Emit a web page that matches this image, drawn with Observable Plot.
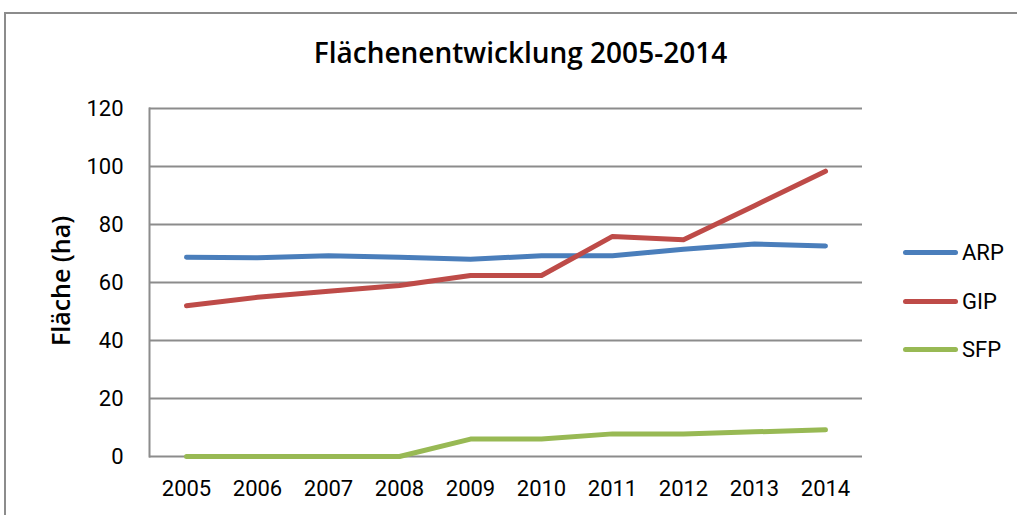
<!DOCTYPE html>
<html>
<head>
<meta charset="utf-8">
<script src="https://cdn.jsdelivr.net/npm/d3@7"></script>
<script src="https://cdn.jsdelivr.net/npm/@observablehq/plot@0.6"></script>
<style>
  html, body { margin: 0; padding: 0; background: #fff; }
  #wrap { position: relative; width: 1017px; height: 515px; overflow: hidden; font-family: Roboto, "Liberation Sans", sans-serif; color: #000; }
  #border { position: absolute; left: 4px; top: 12px; width: 1100px; height: 600px; border: 2px solid #8c8c8c; box-sizing: border-box; }
  #title { position: absolute; left: 12px; width: 1017px; top: 34px; text-align: center; font-family: "Open Sans", sans-serif; font-weight: 600; font-size: 28px; line-height: 36px; }
  #ytitle { position: absolute; left: 60px; top: 281px; transform: translate(-50%, -50%) rotate(-90deg); font-family: "Open Sans", sans-serif; font-weight: 600; font-size: 25px; white-space: nowrap; }
  #chart { position: absolute; left: 0; top: 0; }
  .leg { position: absolute; left: 903px; height: 24px; display: flex; align-items: center; font-size: 22px; }
  .leg span.sw { display: inline-block; width: 55px; height: 5px; border-radius: 3px; margin-right: 4px; }
</style>
</head>
<body>
<div id="wrap">
  <div id="border"></div>
  <div id="title">Flächenentwicklung 2005-2014</div>
  <div id="ytitle">Fläche (ha)</div>
  <div id="chart"></div>
  <div id="legend"></div>
</div>
<script>
const years = ["2005","2006","2007","2008","2009","2010","2011","2012","2013","2014"];
const seriesNames = ["ARP", "GIP", "SFP"];
const seriesColors = ["#4a7ebb", "#be4b48", "#98b954"];
const arp = [68.7, 68.5, 69.2, 68.7, 68.0, 69.2, 69.2, 71.5, 73.3, 72.6];
const gip = [52.0, 54.9, 57.0, 59.0, 62.4, 62.4, 75.9, 74.7, 86.5, 98.4];
const sfp = [0, 0, 0, 0, 6.0, 6.0, 7.8, 7.8, 8.5, 9.2];
const yTicks = [0, 20, 40, 60, 80, 100, 120];

const valuesBySeries = {ARP: arp, GIP: gip, SFP: sfp};
const data = seriesNames.flatMap(s => years.map((y, i) => ({series: s, year: y, value: valuesBySeries[s][i]})));

const chart = Plot.plot({
  width: 1017,
  height: 515,
  marginTop: 108,
  marginBottom: 59,
  marginLeft: 149,
  marginRight: 155,
  style: {fontFamily: "Roboto, 'Liberation Sans', sans-serif", fontSize: "22px", color: "#000", background: "transparent"},
  x: {type: "point", domain: years, padding: 0.5, label: null},
  y: {domain: [0, 120], label: null},
  color: {domain: seriesNames, range: seriesColors},
  marks: [
    Plot.ruleY(yTicks, {stroke: "#8c8c8c", strokeWidth: 2}),
    Plot.frame({anchor: "left", stroke: "#8c8c8c", strokeWidth: 2}),
    Plot.axisX({tickSize: 0, tickPadding: 24, fontSize: 22, label: null}),
    Plot.axisY({ticks: yTicks, tickSize: 0, tickPadding: 26, fontSize: 22, label: null}),
    Plot.line(data, {x: "year", y: "value", z: "series", stroke: "series", strokeWidth: 5, strokeLinecap: "round", strokeLinejoin: "round"})
  ]
});
document.getElementById("chart").appendChild(chart);

const legendY = [252, 301, 349];
const legend = document.getElementById("legend");
seriesNames.forEach((s, i) => {
  const d = document.createElement("div");
  d.className = "leg";
  d.style.top = (legendY[i] - 12) + "px";
  d.innerHTML = `<span class="sw" style="background:${seriesColors[i]}"></span>${s}`;
  legend.appendChild(d);
});
</script>
</body>
</html>
